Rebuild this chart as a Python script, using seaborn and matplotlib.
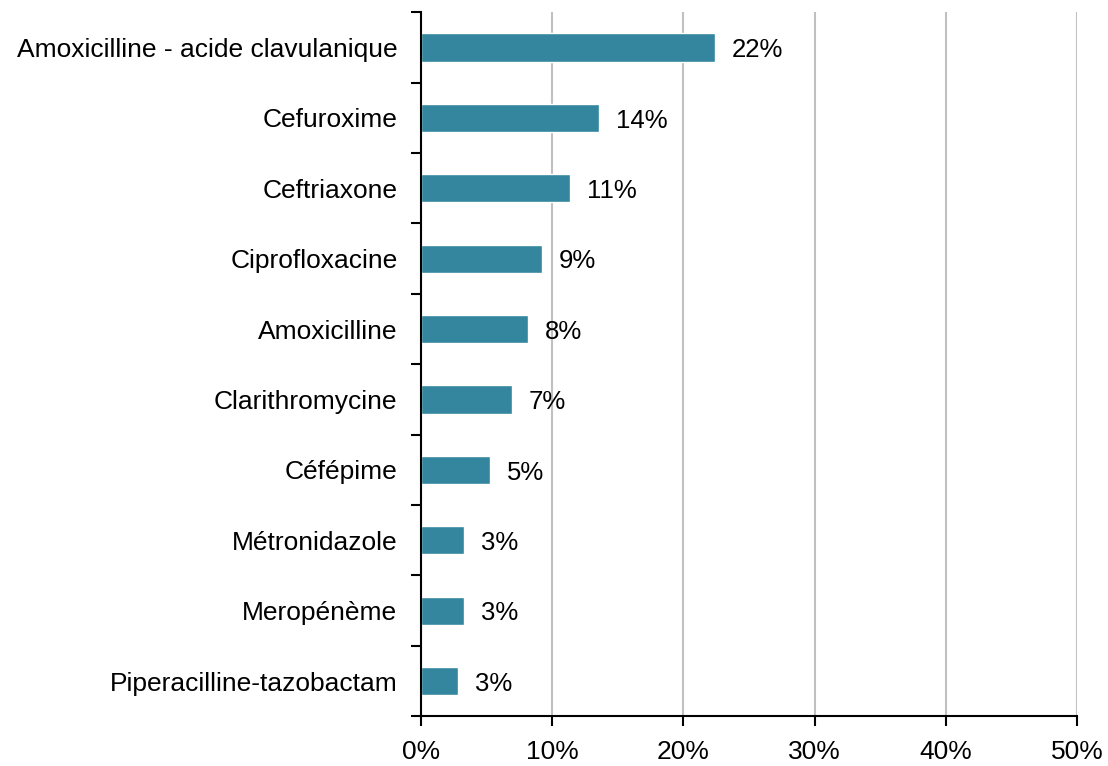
import matplotlib
matplotlib.use('Agg')
import matplotlib.pyplot as plt
from matplotlib.ticker import PercentFormatter, FixedLocator
import seaborn as sns
import pandas as pd

antibiotiques = ['Amoxicilline - acide clavulanique', 'Cefuroxime', 'Ceftriaxone',
                 'Ciprofloxacine', 'Amoxicilline', 'Clarithromycine', 'Céfépime',
                 'Métronidazole', 'Meropénème', 'Piperacilline-tazobactam']
pourcentages = [22.4, 13.6, 11.35, 9.2, 8.15, 6.9, 5.25, 3.27, 3.27, 2.82]
x_ticks = [0, 10, 20, 30, 40, 50]

df = pd.DataFrame({'antibiotique': antibiotiques, 'pct': pourcentages})

sns.set_style('white')
plt.rcParams['font.family'] = ['Liberation Sans', 'DejaVu Sans']
plt.rcParams['text.color'] = 'black'
plt.rcParams['xtick.color'] = 'black'
plt.rcParams['ytick.color'] = 'black'

fig = plt.figure(figsize=(11.08, 7.66), dpi=100)
ax = fig.add_axes([0.380, 0.065, 0.592, 0.919])

sns.barplot(data=df, y='antibiotique', x='pct', orient='h', color='#33869E',
            saturation=1, width=0.4, ax=ax)

ax.set_xlim(0, 50)
ax.set_ylim(9.5, -0.5)
ax.set_xticks(x_ticks)
ax.xaxis.set_major_formatter(PercentFormatter(decimals=0))
ax.grid(axis='x', color='#c0c0c0', linewidth=1.5)
ax.set_axisbelow(True)

for s in ['top', 'right']:
    ax.spines[s].set_visible(False)
for s in ['left', 'bottom']:
    ax.spines[s].set_color('black')
    ax.spines[s].set_linewidth(1.5)

# petits traits entre les catégories sur l'axe y
ax.yaxis.set_minor_locator(FixedLocator([i - 0.5 for i in range(len(antibiotiques) + 1)]))
ax.tick_params(axis='y', which='major', length=0, pad=17, labelsize=19)
ax.tick_params(axis='y', which='minor', length=7, width=1.5, color='black', left=True)
ax.tick_params(axis='x', which='major', length=7, width=1.5, color='black',
               bottom=True, pad=10, labelsize=19)

labels = ax.bar_label(ax.containers[0], labels=[f'{round(v):d}%' for v in pourcentages],
                      padding=12, fontsize=18.5, color='black')
for t in labels:
    t.xyann = (12, -2)

ax.set_xlabel('')
ax.set_ylabel('')

plt.savefig('out.png', dpi=100)
